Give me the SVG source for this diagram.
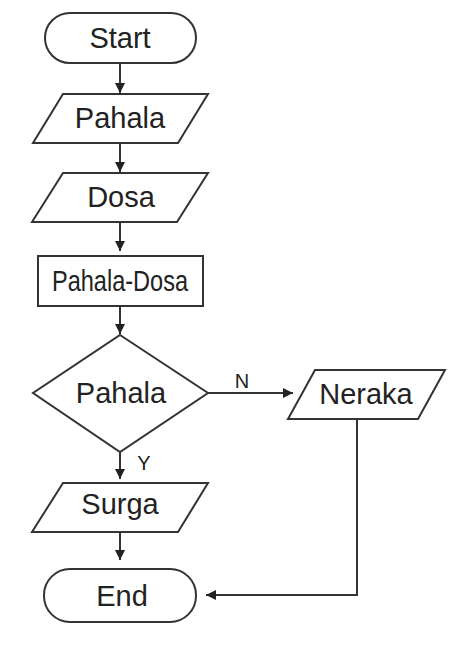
<svg xmlns="http://www.w3.org/2000/svg" width="466" height="646" viewBox="0 0 466 646">
<style>
.shape{fill:#fff;stroke:#333;stroke-width:2}
.lbl{font-family:"Liberation Sans",Arial,sans-serif;font-size:29px;fill:#222;text-anchor:middle}
.small{font-family:"Liberation Sans",Arial,sans-serif;font-size:20px;fill:#222;text-anchor:middle}
.conn{fill:none;stroke:#333;stroke-width:2}
</style>
<defs>
<marker id="ah" viewBox="0 0 10 10" refX="10" refY="5" markerWidth="5" markerHeight="5" orient="auto" markerUnits="strokeWidth">
<path d="M0,0 L10,5 L0,10 z" fill="#222"/>
</marker>
</defs>
<rect width="466" height="646" fill="#fff"/>
<g id="connectors">
<line class="conn" x1="120" y1="63" x2="120" y2="93" marker-end="url(#ah)"/>
<line class="conn" x1="120" y1="143" x2="120" y2="172" marker-end="url(#ah)"/>
<line class="conn" x1="120" y1="222" x2="120" y2="251" marker-end="url(#ah)"/>
<line class="conn" x1="120" y1="306" x2="120" y2="334" marker-end="url(#ah)"/>
<line class="conn" x1="208" y1="393" x2="293" y2="393" marker-end="url(#ah)"/>
<line class="conn" x1="120" y1="452" x2="120" y2="479" marker-end="url(#ah)"/>
<line class="conn" x1="120" y1="532" x2="120" y2="560" marker-end="url(#ah)"/>
<polyline class="conn" points="357,419 357,595 206,595" marker-end="url(#ah)"/>
<text class="small" x="242" y="388">N</text>
<text class="small" x="144" y="470">Y</text>
</g>
<g id="start">
<rect class="shape" x="45" y="13" width="151" height="50" rx="25" ry="25"/>
<text class="lbl" x="120" y="48">Start</text>
</g>
<g id="input-pahala">
<polygon class="shape" points="63,94 208,94 178,143 33,143"/>
<text class="lbl" x="120" y="128">Pahala</text>
</g>
<g id="input-dosa">
<polygon class="shape" points="63,173 208,173 177,222 32,222"/>
<text class="lbl" x="121" y="207">Dosa</text>
</g>
<g id="process">
<rect class="shape" x="38" y="256" width="165" height="50"/>
<text class="lbl" x="120" y="291" textLength="136" lengthAdjust="spacingAndGlyphs">Pahala-Dosa</text>
</g>
<g id="decision">
<polygon class="shape" points="120,335 208,393 120,452 33,393"/>
<text class="lbl" x="121" y="403">Pahala</text>
</g>
<g id="output-neraka">
<polygon class="shape" points="315,370 445,370 418,419 288,419"/>
<text class="lbl" x="366" y="404">Neraka</text>
</g>
<g id="output-surga">
<polygon class="shape" points="63,483 208,483 178,532 32,532"/>
<text class="lbl" x="120" y="514">Surga</text>
</g>
<g id="end">
<rect class="shape" x="44" y="569" width="152" height="53" rx="26" ry="26"/>
<text class="lbl" x="122" y="606">End</text>
</g>
</svg>
